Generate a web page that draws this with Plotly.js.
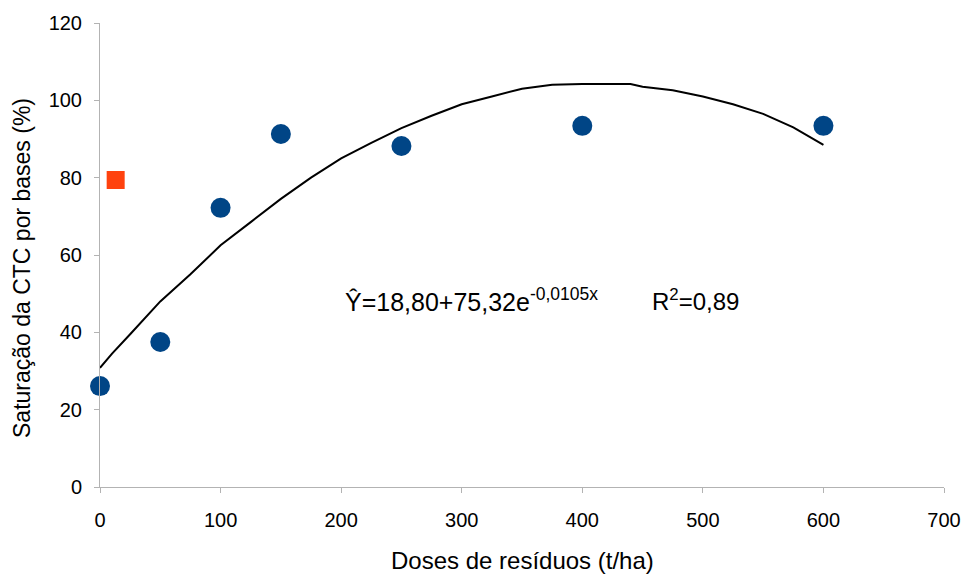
<!DOCTYPE html>
<html>
<head>
<meta charset="utf-8">
<script src="https://cdn.plot.ly/plotly-3.0.1.min.js"></script>
<style>html,body{margin:0;padding:0;background:#fff;}#chart{width:964px;height:574px;}</style>
</head>
<body>
<div id="chart"></div>
<script>
// Observed points (circles)
const doses = [0, 50, 100, 150, 250, 400, 600];
const saturacao = [26.1, 37.5, 72.2, 91.3, 88.2, 93.4, 93.4];
// Extra point (square)
const extraDose = [13];
const extraSat = [79.4];
// Fitted curve
const curveX = [0, 10, 25, 40, 50, 75, 100, 125, 150, 175, 200, 225, 250, 275, 300, 325, 350, 375, 400, 425, 440, 450, 475, 500, 525, 550, 575, 600];
const curveY = [30.8, 34.5, 39.5, 44.5, 48, 55, 62.5, 68.5, 74.5, 80, 85, 89, 92.8, 96, 99, 101, 103, 104, 104.2, 104.2, 104.2, 103.5, 102.6, 101, 99, 96.5, 93, 88.5];
const xTicks = [0, 100, 200, 300, 400, 500, 600, 700];
const yTicks = [0, 20, 40, 60, 80, 100, 120];
const xTitle = "Doses de resíduos (t/ha)";
const yTitle = "Saturação da CTC por bases (%)";
const equationText = "Ŷ=18,80+75,32e<sup>-0,0105x</sup>";
const r2Text = "R<sup>2</sup>=0,89";

const font = "Liberation Sans, Arial, sans-serif";

const traces = [
  {x: curveX, y: curveY, mode: "lines", type: "scatter",
   line: {color: "#000000", width: 2}, hoverinfo: "skip", cliponaxis: false},
  {x: doses, y: saturacao, mode: "markers", type: "scatter",
   marker: {color: "#004586", size: 20, symbol: "circle"}, cliponaxis: false},
  {x: extraDose, y: extraSat, mode: "markers", type: "scatter",
   marker: {color: "#ff420e", size: 18, symbol: "square"}, cliponaxis: false}
];

const layout = {
  width: 964, height: 574,
  margin: {l: 100, r: 20, t: 23, b: 87},
  paper_bgcolor: "#ffffff", plot_bgcolor: "#ffffff",
  showlegend: false,
  font: {family: font, color: "#000000", size: 20},
  xaxis: {
    range: [0, 700], tickvals: xTicks, ticktext: xTicks.map(String),
    showgrid: false, zeroline: false, showline: true, linecolor: "#b3b3b3", linewidth: 1,
    ticks: "outside", ticklen: 5, tickcolor: "#b3b3b3", tickwidth: 1,
    ticklabelstandoff: 10,
    tickfont: {family: font, size: 20, color: "#000"},
    automargin: false, fixedrange: true
  },
  yaxis: {
    range: [0, 120], tickvals: yTicks, ticktext: yTicks.map(String),
    showgrid: false, zeroline: false, showline: true, linecolor: "#b3b3b3", linewidth: 1,
    ticks: "outside", ticklen: 5, tickcolor: "#b3b3b3", tickwidth: 1,
    ticklabelstandoff: 8,
    tickfont: {family: font, size: 20, color: "#000"},
    automargin: false, fixedrange: true
  },
  annotations: [
    {x: 201.5, y: 48.3, xref: "x", yref: "y", text: equationText, showarrow: false,
     xanchor: "left", yanchor: "middle", font: {family: font, size: 25, color: "#000"}},
    {x: 456, y: 48.3, xref: "x", yref: "y", text: r2Text, showarrow: false,
     xanchor: "left", yanchor: "middle", font: {family: font, size: 24, color: "#000"}},
    {x: 0.5, y: -0.159, xref: "paper", yref: "paper", text: xTitle, showarrow: false,
     xanchor: "center", yanchor: "middle", font: {family: font, size: 24, color: "#000"}},
    {x: -0.0924, y: 0.472, xref: "paper", yref: "paper", text: yTitle, showarrow: false,
     textangle: -90, xanchor: "center", yanchor: "middle", font: {family: font, size: 23, color: "#000"}}
  ]
};

Plotly.newPlot("chart", traces, layout, {displayModeBar: false, staticPlot: true});
</script>
</body>
</html>
